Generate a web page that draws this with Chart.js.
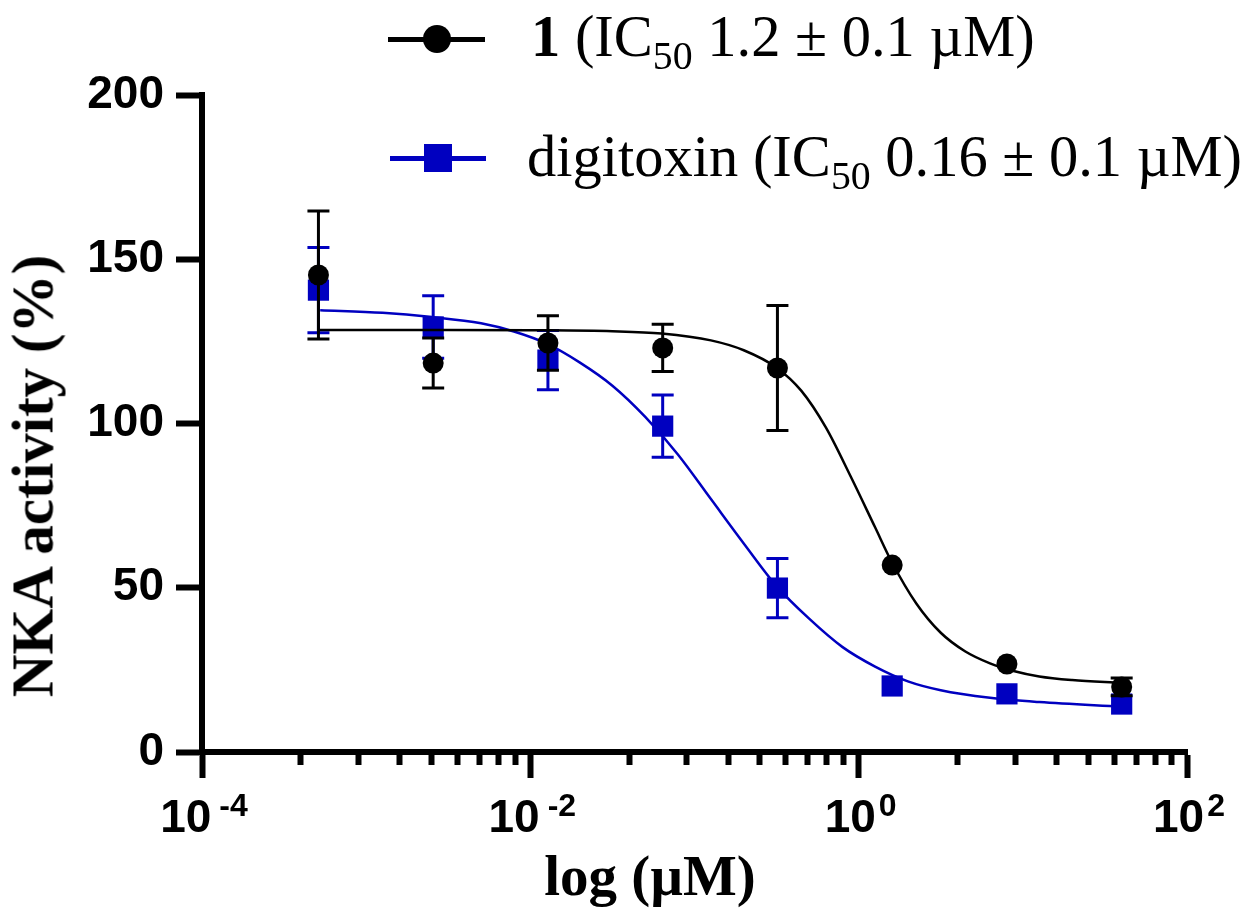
<!DOCTYPE html>
<html>
<head>
<meta charset="utf-8">
<script src="https://cdn.jsdelivr.net/npm/chart.js@4.4.0/dist/chart.umd.min.js"></script>
<style>
  body { margin: 0; background: #fff; }
  #wrap { position: relative; width: 1252px; height: 914px; }
  #chart { position: absolute; left: 0; top: 0; }
  .txt {
    position: absolute;
    font-family: "Liberation Serif", "Times New Roman", serif;
    color: #000;
    white-space: nowrap;
    line-height: 1;
  }
  .sub { font-size: 0.68em; position: relative; top: 0.32em; }
  .legLine { position: absolute; height: 5px; }
  .legMark { position: absolute; width: 28px; height: 28px; }
</style>
</head>
<body>
<div id="wrap">
  <canvas id="chart" width="1252" height="914"></canvas>

  <!-- legende -->
  <div class="legLine" style="left:388px; top:37px; width:97px; background:#000;"></div>
  <div class="legMark" style="left:423px; top:25px; background:#000; border-radius:50%;"></div>
  <div class="txt" style="left:531px; top:8px; font-size:58.5px;"><b>1</b> (IC<span class="sub">50</span> 1.2 ± 0.1 µM)</div>

  <div class="legLine" style="left:390px; top:156px; width:96px; background:#0000c0;"></div>
  <div class="legMark" style="left:424px; top:144px; background:#0000c0;"></div>
  <div class="txt" style="left:527px; top:128px; font-size:58.5px;">digitoxin (IC<span class="sub">50</span> 0.16 ± 0.1 µM)</div>

  <!-- titres des axes -->
  <div class="txt" style="left:33px; top:476px; font-size:59px; font-weight:bold; transform:translate(-50%,-50%) rotate(-90deg);">NKA activity (%)</div>
  <div class="txt" style="left:650px; top:847px; font-size:57px; font-weight:bold; transform:translateX(-50%);">log (µM)</div>
</div>

<script>
// concentrations (µM), same for both compounds
const concentrations = [0.000512, 0.00256, 0.0128, 0.064, 0.32, 1.6, 8, 40];

// compound 1 : mean and error (%)
const cpd1Mean = [145.2, 118.4, 124.5, 123.0, 116.9, 56.9, 26.8, 19.8];
const cpd1Err = [19.5, 7.6, 8.3, 7.2, 19.0, 0, 0, 2.7];

// digitoxin : mean and error (%)
const digMean = [140.6, 129.4, 119.3, 99.2, 49.9, 20.1, 17.7, 14.6];
const digErr = [13.0, 9.5, 9.0, 9.5, 9.0, 0, 0, 0];

// fitted curves (log10 µM -> %)
const cpd1FitLogX = [-3.29, -2.5, -2.0, -1.5, -1.2, -0.9, -0.7, -0.5, -0.35, -0.2, -0.05, 0.1, 0.2, 0.35, 0.5, 0.65, 0.8, 0.95, 1.1, 1.3, 1.6];
const cpd1FitY = [128.5, 128.5, 128.4, 128.1, 127.4, 125.3, 122.3, 117.0, 110.0, 98.8, 84.0, 68.4, 58.0, 45.3, 36.3, 30.6, 27.0, 24.6, 23.0, 21.9, 21.0];

const digFitLogX = [-3.28, -2.9, -2.6, -2.3, -2.1, -1.9, -1.7, -1.5, -1.3, -1.1, -0.9, -0.7, -0.5, -0.3, -0.1, 0.1, 0.3, 0.5, 0.8, 1.1, 1.6];
const digFitY = [134.5, 133.7, 132.4, 130.5, 128.0, 124.3, 118.6, 111.5, 102.0, 90.5, 77.0, 63.5, 50.5, 40.5, 32.0, 26.0, 21.5, 18.8, 16.5, 15.2, 13.8];

// axes
const xMajorTicks = [1e-4, 1e-2, 1, 100];
const yTicks = [0, 50, 100, 150, 200];

const BLUE = "#0000c0";
const TICK_FONT = "Liberation Sans, Arial, sans-serif";

// Prism met les petites graduations a a*k^2 (k = 2..9) entre deux graduations principales
const xMinorTicks = [];
for (let i = 0; i < xMajorTicks.length - 1; i++) {
  for (let k = 2; k <= 9; k++) xMinorTicks.push(xMajorTicks[i] * k * k);
}

const toPoints = (xs, ys) => xs.map((x, i) => ({ x: x, y: ys[i] }));
const fitPoints = (logs, ys) => logs.map((l, i) => ({ x: Math.pow(10, l), y: ys[i] }));

// barres d'erreur, dessinees apres chaque jeu de points
const errorBars = {
  id: "errorBars",
  afterDatasetDraw(chart, args) {
    const ds = chart.data.datasets[args.index];
    if (!ds.errors) return;
    const xs = chart.scales.x;
    const ys = chart.scales.y;
    const ctx = chart.ctx;
    ctx.save();
    ctx.strokeStyle = ds.backgroundColor;
    ctx.lineWidth = 3;
    ds.data.forEach((p, i) => {
      if (!ds.errors[i]) return; // cachee sous le symbole
      const px = xs.getPixelForValue(p.x);
      const top = ys.getPixelForValue(p.y + ds.errors[i]);
      const bot = ys.getPixelForValue(p.y - ds.errors[i]);
      ctx.beginPath();
      ctx.moveTo(px, top);
      ctx.lineTo(px, bot);
      ctx.moveTo(px - 11, top);
      ctx.lineTo(px + 11, top);
      ctx.moveTo(px - 11, bot);
      ctx.lineTo(px + 11, bot);
      ctx.stroke();
    });
    ctx.restore();
  },
};

// etiquettes 10^n avec exposant
const xLabels = {
  id: "xLabels",
  afterDraw(chart) {
    const xs = chart.scales.x;
    const ctx = chart.ctx;
    ctx.save();
    ctx.fillStyle = "#000";
    ctx.textBaseline = "alphabetic";
    ctx.textAlign = "left";
    xMajorTicks.forEach((v) => {
      const exp = String(Math.round(Math.log10(v)));
      ctx.font = "bold 46px " + TICK_FONT;
      const w1 = ctx.measureText("10").width;
      ctx.font = "bold 32px " + TICK_FONT;
      const w2 = ctx.measureText(exp).width;
      const gap = exp.startsWith("-") ? 8 : 3;
      const start = xs.getPixelForValue(v) - (w1 + gap + w2) / 2 + 2;
      ctx.font = "bold 46px " + TICK_FONT;
      ctx.fillText("10", start, 832);
      ctx.font = "bold 32px " + TICK_FONT;
      ctx.fillText(exp, start + w1 + gap, 816);
    });
    ctx.restore();
  },
};

new Chart(document.getElementById("chart"), {
  type: "scatter",
  data: {
    datasets: [
      {
        label: "1",
        data: toPoints(concentrations, cpd1Mean),
        errors: cpd1Err,
        pointStyle: "circle",
        pointRadius: 10.5,
        backgroundColor: "#000",
        borderColor: "#000",
        borderWidth: 0,
      },
      {
        label: "1 fit",
        data: fitPoints(cpd1FitLogX, cpd1FitY),
        showLine: true,
        pointRadius: 0,
        borderColor: "#000",
        borderWidth: 2.5,
        cubicInterpolationMode: "monotone",
      },
      {
        label: "digitoxin",
        data: toPoints(concentrations, digMean),
        errors: digErr,
        pointStyle: "rect",
        pointRadius: 15,
        backgroundColor: BLUE,
        borderColor: BLUE,
        borderWidth: 0,
      },
      {
        label: "digitoxin fit",
        data: fitPoints(digFitLogX, digFitY),
        showLine: true,
        pointRadius: 0,
        borderColor: BLUE,
        borderWidth: 2.5,
        cubicInterpolationMode: "monotone",
      },
    ],
  },
  options: {
    responsive: false,
    animation: false,
    layout: { padding: { left: 0, top: 95, right: 65, bottom: 162 } },
    plugins: {
      legend: { display: false },
      tooltip: { enabled: false },
    },
    scales: {
      x: {
        type: "logarithmic",
        position: "bottom",
        min: 1e-4,
        max: 100,
        afterBuildTicks: (s) => { s.ticks = xMajorTicks.map((v) => ({ value: v })); },
        afterFit: (s) => { s.height = 0; },
        ticks: { display: false },
        grid: { drawOnChartArea: false, tickLength: 26, tickWidth: 6, tickColor: "#000" },
        border: { color: "#000", width: 6 },
      },
      x2: {
        type: "logarithmic",
        position: "bottom",
        min: 1e-4,
        max: 100,
        afterBuildTicks: (s) => { s.ticks = xMinorTicks.map((v) => ({ value: v })); },
        afterFit: (s) => { s.height = 0; },
        ticks: { display: false },
        grid: { drawOnChartArea: false, tickLength: 13, tickWidth: 6, tickColor: "#000" },
        border: { display: false },
      },
      y: {
        min: 0,
        max: 200,
        afterBuildTicks: (s) => { s.ticks = yTicks.map((v) => ({ value: v })); },
        afterFit: (s) => { s.width = 202; },
        ticks: {
          color: "#000",
          padding: 12,
          font: { family: TICK_FONT, weight: "bold", size: 46 },
        },
        grid: { drawOnChartArea: false, tickLength: 26, tickWidth: 6, tickColor: "#000" },
        border: { color: "#000", width: 6 },
      },
    },
  },
  plugins: [errorBars, xLabels],
});
</script>
</body>
</html>
